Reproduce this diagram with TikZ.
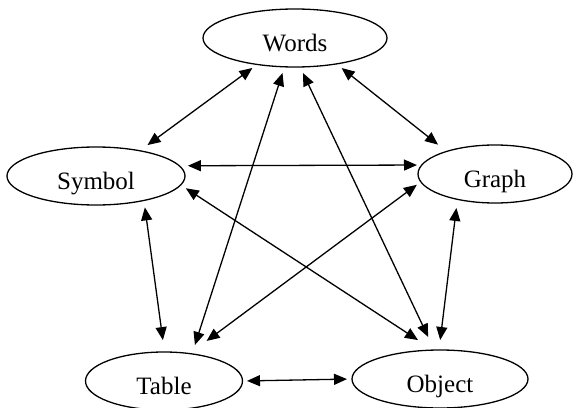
\documentclass[tikz,border=0pt]{standalone}
\usepackage{fontspec}
\setmainfont{Liberation Serif}
\usetikzlibrary{shapes.geometric}
\usetikzlibrary{arrows.meta}

\tikzset{
	concept/.style={draw, ellipse, line width=1.3pt, inner sep=0pt, outer sep=0pt, text height=26pt, text depth=0pt, font=\fontsize{25}{30}\selectfont},
	link/.style={line width=1.3pt, {Triangle[length=13pt,width=11pt]}-{Triangle[length=13pt,width=11pt]}}
}

\begin{document}
\begin{tikzpicture}[x=1pt,y=-1pt]
		\useasboundingbox (0,0) rectangle (573,407);
		
		%draw ellipses
		\node[concept, minimum width=184pt, minimum height=58pt] (words) at (295,38) {Words};
		\node[concept, minimum width=178pt, minimum height=58pt] (symbol) at (96,176) {Symbol};
		\node[concept, minimum width=154pt, minimum height=58pt] (graph) at (495,174) {Graph};
		\node[concept, minimum width=157pt, minimum height=58pt] (table) at (164,381) {Table};
		\node[concept, minimum width=176pt, minimum height=58pt] (object) at (440,379) {Object};
		
		%draw arrows between them
		\foreach \src/\sa/\dst/\da/\ss/\ds in {
			words/215.5/symbol/30.5/6/9.6,
			words/328.4/graph/155.9/6.6/10.9,
			words/250.9/table/44/6.5/9.4,
			words/280/object/101.3/6.7/14.5,
			symbol/7.6/graph/173/8.6/4.8,
			symbol/333.9/table/89/7/12,
			symbol/354.9/object/103.1/6.1/18.3,
			graph/186.2/table/47.7/5/21.2,
			graph/214.5/object/92.6/8.7/10.1,
			table/0.7/object/180.65/4.5/5}
		\draw[link, shorten <=\ss pt, shorten >=\ds pt] (\src.\sa) -- (\dst.\da);
\end{tikzpicture}
\end{document}
